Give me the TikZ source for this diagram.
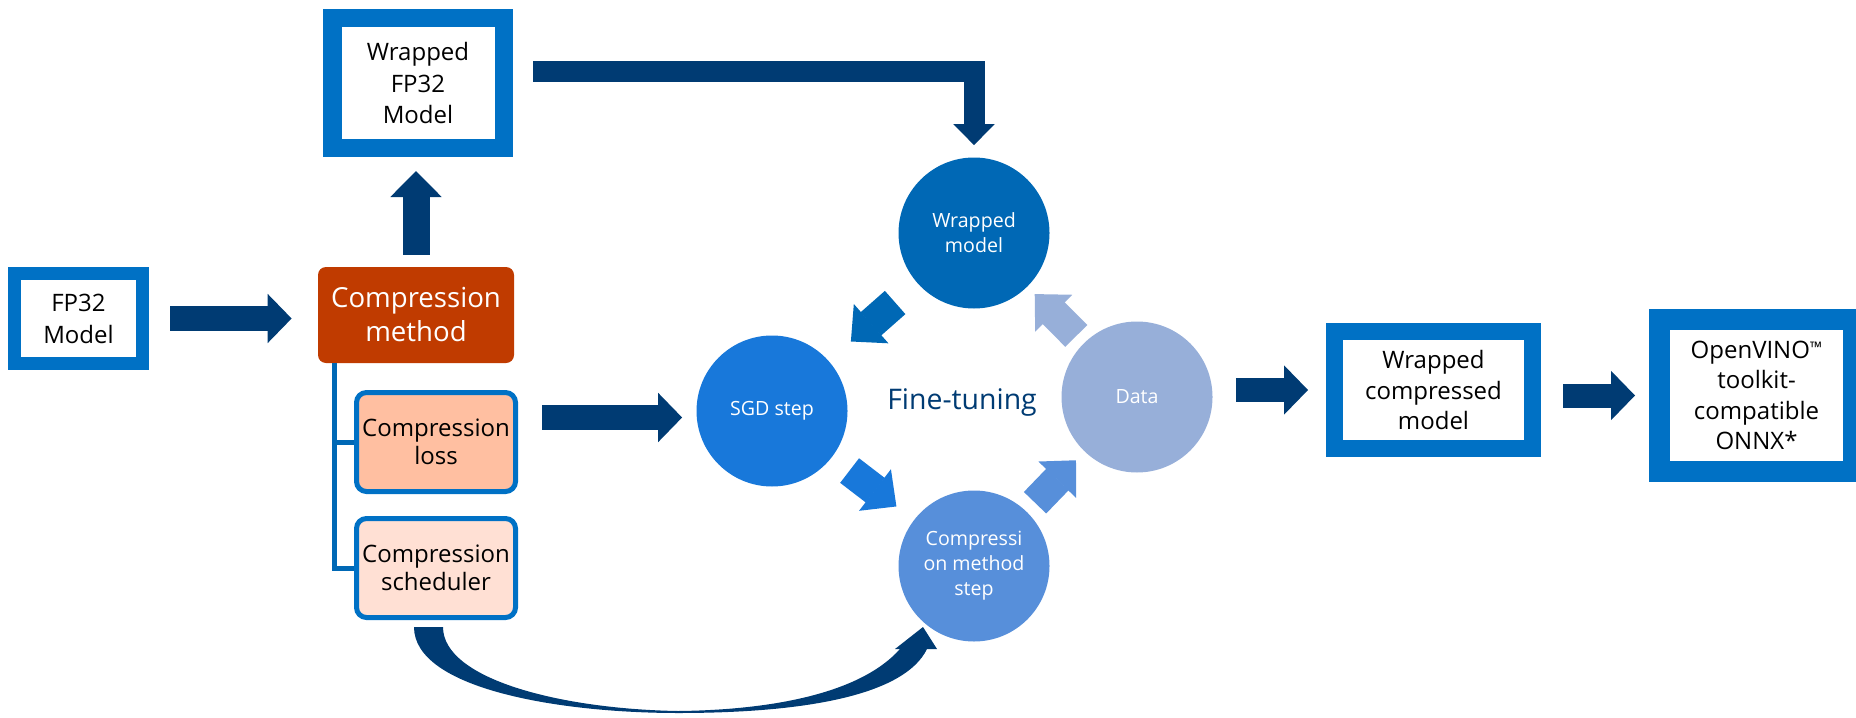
\documentclass[tikz,border=0pt]{standalone}
\usepackage{fontspec}
\setmainfont{Open Sans}
\usetikzlibrary{arrows.meta,calc}
\definecolor{boxblue}{HTML}{0071C5}
\definecolor{arrownavy}{HTML}{003B73}
\definecolor{methodred}{HTML}{C03B00}
\definecolor{lossfill}{HTML}{FFBFA1}
\definecolor{schedfill}{HTML}{FFE0D4}
\definecolor{wmblue}{HTML}{0068B5}
\definecolor{sgdblue}{HTML}{1878DA}
\definecolor{cmsblue}{HTML}{578FDA}
\definecolor{datablue}{HTML}{97AFD9}
\begin{document}
\begin{tikzpicture}[x=0.5pt,y=-0.5pt,
 modelbox/.style={draw=boxblue,fill=white,align=center,inner sep=0pt,font=\fontsize{12}{16}\selectfont},
 partbox/.style={draw=boxblue,line width=2.5pt,rounded corners=5pt,align=center,inner sep=0pt,minimum width=79.5pt,minimum height=49.5pt,font=\fontsize{12}{14}\selectfont},
 stepcircle/.style={circle,inner sep=0pt,minimum size=75.5pt,text=white,align=center,font=\fontsize{9.8}{12.5}\selectfont},
 bigarrow/.style={draw=arrownavy,line width=12.5pt,-{Triangle[width=24.5pt,length=12pt,line width=1pt]}},
 cyclearrow/.style={line width=15.5pt,-{Triangle[width=26pt,length=13.5pt,line width=1pt]}},
 tree/.style={draw=wmblue,line width=2.5pt}]
\useasboundingbox(0,0)rectangle(1856,717);
\node[modelbox,line width=6.5pt,minimum width=64pt,minimum height=45pt](fp32)at(78.5,318.5){FP32\\Model};
\node[modelbox,line width=9.25pt,minimum width=85.75pt,minimum height=64.75pt](wfp)at(418,83){Wrapped\\FP32\\Model};
\node[fill=methodred,rounded corners=4pt,text=white,align=center,inner sep=0pt,minimum width=98pt,minimum height=48pt,font=\fontsize{13.8}{17}\selectfont](cm)at(416,315){Compression\\method};
\node[partbox,fill=lossfill](loss)at(436,442){Compression\\loss};
\node[partbox,fill=schedfill](sched)at(436,568){Compression\\scheduler};
\draw[tree]([xshift=8.5pt]cm.south west)|-(loss.west);
\draw[tree]([xshift=8.5pt]cm.south west)|-(sched.west);
\node[stepcircle,fill=wmblue](wm)at(974,233){Wrapped\\model};
\node[stepcircle,fill=sgdblue](sgd)at(772,411){SGD step};
\node[stepcircle,fill=cmsblue](cms)at(974,566){Compressi\\on method\\step};
\node[stepcircle,fill=datablue](data)at(1137,397){Data};
\node[text=arrownavy,font=\fontsize{14.2}{17}\selectfont](ft)at(962,402){Fine-tuning};
\node[modelbox,line width=8.5pt,minimum width=99pt,minimum height=58.5pt,font=\fontsize{12}{15.25}\selectfont](wc)at(1433.5,390){Wrapped\\compressed\\model};
\node[modelbox,line width=10.5pt,minimum width=97pt,minimum height=76pt,font=\fontsize{12}{15.3}\selectfont](ov)at(1756.5,395.5){OpenVINO\raisebox{2.5pt}{\fontsize{8}{8}\selectfont ™}\\toolkit-\\compatible\\ONNX*};
\draw[bigarrow,shorten <=10.5pt,shorten >=13pt](fp32.east)--(fp32.east -| cm.west);
\draw[bigarrow,line width=13.5pt,-{Triangle[width=25.5pt,length=13pt,line width=1pt]},shorten <=6pt,shorten >=7pt](cm.north)--(cm.north |- wfp.south);
\draw[bigarrow,line width=10.5pt,-{Triangle[width=20.5pt,length=10.5pt,line width=1pt]},shorten <=10pt,shorten >=6pt]([yshift=5.75pt]wfp.east)-|(wm.north);
\draw[bigarrow,shorten <=12pt,shorten >=7pt]($(loss.east |- sgd.west)+(0,6.5)$)--($(sgd.west)+(0,6.5)$);
\draw[bigarrow,line width=12pt,shorten <=11.5pt,shorten >=9pt](data.east |- wc.west)--(wc.west);
\draw[bigarrow,line width=12pt,shorten <=11pt,shorten >=7pt](wc.east |- ov.west)--(ov.west);
\coordinate(m1)at($(wm)!0.5!(sgd)$);
\coordinate(m2)at($(sgd)!0.5!(cms)$);
\coordinate(m3)at($(cms)!0.5!(data)$);
\coordinate(m4)at($(data)!0.5!(wm)$);
\draw[cyclearrow,draw=wmblue]($(m1)!14.75pt!(wm)$)--($(m1)!14.75pt!(sgd)$);
\draw[cyclearrow,draw=sgdblue]($(m2)!14.75pt!(sgd)$)--($(m2)!14.75pt!(cms)$);
\draw[cyclearrow,draw=cmsblue]($(m3)!14.75pt!(cms)$)--($(m3)!14.75pt!(data)$);
\draw[cyclearrow,draw=datablue]($(m4)!14.75pt!(data)$)--($(m4)!14.75pt!(wm)$);
\begin{scope}[shift={(sched.south)}]
\fill[arrownavy](-22,7)..controls(-22,69)and(124,93)..(242,93)
 ..controls(374,93)and(469,74)..(491,29)--(501,29)--(487,7)--(459,29)--(464,29)
 ..controls(424,74)and(334,90)..(242,91)
 ..controls(124,89)and(7,59)..(7,7)--cycle;
\end{scope}
\end{tikzpicture}
\end{document}
